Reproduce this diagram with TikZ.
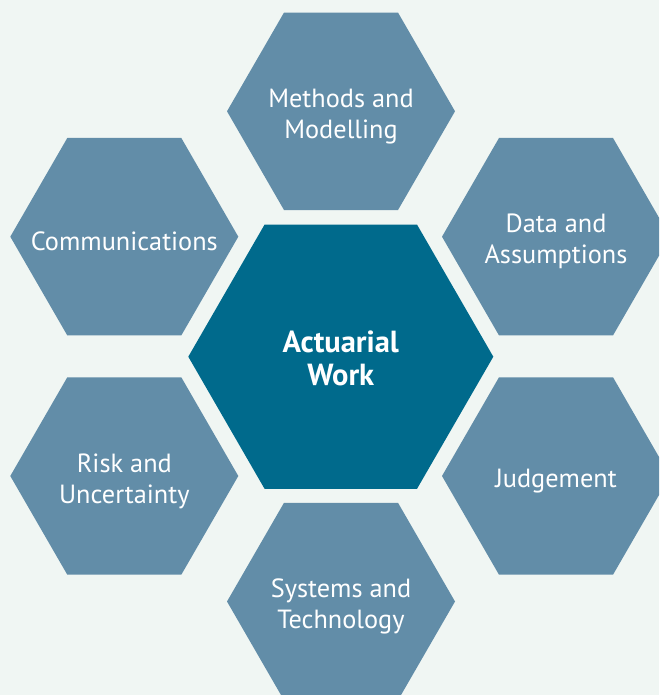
\documentclass[tikz,border=0pt]{standalone}
\usepackage{fontspec}
\setmainfont{PT Sans}
\usetikzlibrary{shapes.geometric}
\definecolor{bgc}{HTML}{F0F6F3}
\definecolor{outerc}{HTML}{628DA8}
\definecolor{centerc}{HTML}{006A8C}
\tikzset{
  hexbase/.style={regular polygon, regular polygon sides=6, inner sep=0pt, outer sep=0pt, draw=none},
  hexouter/.style={hexbase, fill=outerc, minimum size=228pt},
  hexcenter/.style={hexbase, fill=centerc, minimum size=305pt},
  txtouter/.style={text=white, align=center, inner sep=0pt, yshift=-5pt, font=\fontsize{26.3}{31}\selectfont},
  txtcenter/.style={text=white, align=center, inner sep=0pt, yshift=-2pt, font=\bfseries\fontsize{30.5}{33}\selectfont}
}
\begin{document}
\begin{tikzpicture}[x=1pt,y=-1pt]
\useasboundingbox (0,0) rectangle (659,695);
\clip (0,0) rectangle (659,695);
\fill[bgc] (0,0) rectangle (659,695);
\node[hexcenter] (cw) at (340.8,356.7) {};
\node[hexouter] (mm) at (341,111.3) {};
\node[hexouter] (cm) at (124.3,236.7) {};
\node[hexouter] (da) at (556,236.7) {};
\node[hexouter] (ru) at (124.3,476) {};
\node[hexouter] (jd) at (556,476) {};
\node[hexouter] (st) at (341,601.5) {};
\node[txtcenter] (cwt) at (cw.center) {Actuarial\\Work};
\node[txtouter] (mmt) at (mm.center) {Methods and\\Modelling};
\node[txtouter] (cmt) at (cm.center) {Communications};
\node[txtouter] (dat) at (da.center) {Data and\\Assumptions};
\node[txtouter] (rut) at (ru.center) {Risk and\\Uncertainty};
\node[txtouter] (jdt) at (jd.center) {Judgement};
\node[txtouter] (stt) at (st.center) {Systems and\\Technology};
\end{tikzpicture}
\end{document}
